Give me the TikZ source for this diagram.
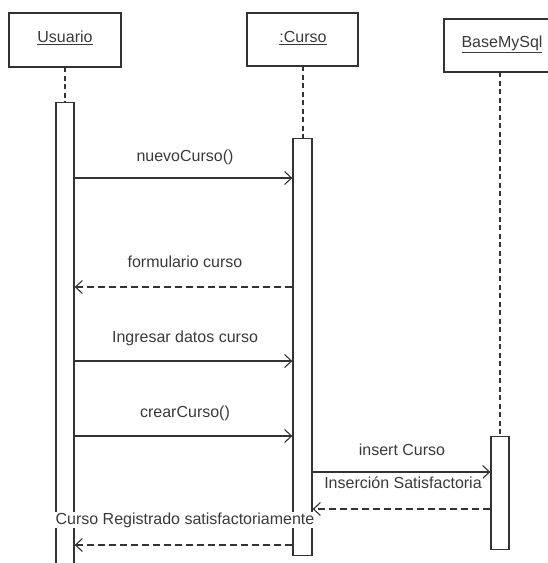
\documentclass[tikz,border=0pt]{standalone}
\usepackage{fontspec}
\setmainfont{Liberation Sans}
\usetikzlibrary{arrows.meta}

\definecolor{ink}{HTML}{333333}
\definecolor{txt}{HTML}{3A3A3A}

\begin{document}
\begin{tikzpicture}[x=1pt,y=-1pt,
  every node/.style={font=\fontsize{16}{19}\selectfont, text=txt},
  objbox/.style={draw=ink, line width=1.3pt, fill=white},
  actbox/.style={draw=ink, line width=1.3pt, fill=white},
  lifeline/.style={draw=ink, line width=1.8pt, dash pattern=on 5pt off 3.5pt},
  msg/.style={draw=ink, line width=1.1pt, -{Straight Barb[length=7pt,width=13pt,line width=1.1pt]}},
  reply/.style={msg, dash pattern=on 7pt off 4pt},
  lbl/.style={inner sep=1pt},
  lblw/.style={inner sep=1pt, fill=white}]
  \useasboundingbox (0,0) rectangle (548,563);

  % object headers
  \draw[objbox] (9,13) rectangle (121,67);
  \node (hU) at (65,38) {\underline{Usuario}};
  \draw[objbox] (247,13) rectangle (358,66);
  \node (hC) at (303,38) {\underline{:Curso}};
  \draw[objbox] (444,19) rectangle (556,72);
  \node (hB) at (502,44) {\underline{BaseMySql}};

  % lifelines
  \draw[lifeline] (65,67) -- (65,102);
  \draw[lifeline] (303,66) -- (303,138);
  \draw[lifeline] (500,72) -- (500,436);

  % activation bars
  \node[actbox, minimum width=18pt, minimum height=480pt, inner sep=0pt, anchor=north] (actU) at (65,102) {};
  \node[actbox, minimum width=19pt, minimum height=417pt, inner sep=0pt, anchor=north] (actC) at (302.5,138) {};
  \node[actbox, minimum width=18pt, minimum height=113pt, inner sep=0pt, anchor=north] (actB) at (500,436) {};

  % message rows
  \coordinate (m1) at (0,178);
  \coordinate (m2) at (0,287);
  \coordinate (m3) at (0,361);
  \coordinate (m4) at (0,436);
  \coordinate (m5) at (0,472);
  \coordinate (m6) at (0,509);
  \coordinate (m7) at (0,545);

  \draw[msg] (actU.east |- m1) -- (actC.west |- m1);
  \node[lbl] (l1) at (185,157) {nuevoCurso()};

  \draw[reply] (actC.west |- m2) -- (actU.east |- m2);
  \node[lbl] (l2) at (185,262) {formulario curso};

  \draw[msg] (actU.east |- m3) -- (actC.west |- m3);
  \node[lbl] (l3) at (185,338) {Ingresar datos curso};

  \draw[msg] (actU.east |- m4) -- (actC.west |- m4);
  \node[lbl] (l4) at (185,413) {crearCurso()};

  \draw[msg] (actC.east |- m5) -- (actB.west |- m5);
  \node[lbl] (l5) at (402,450) {insert Curso};

  \draw[reply] (actB.west |- m6) -- (actC.east |- m6);
  \node[lblw] (l6) at (403,483) {Inserción Satisfactoria};

  \draw[reply] (actC.west |- m7) -- (actU.east |- m7);
  \node[lblw] (l7) at (185,520) {Curso Registrado satisfactoriamente};
\end{tikzpicture}
\end{document}
